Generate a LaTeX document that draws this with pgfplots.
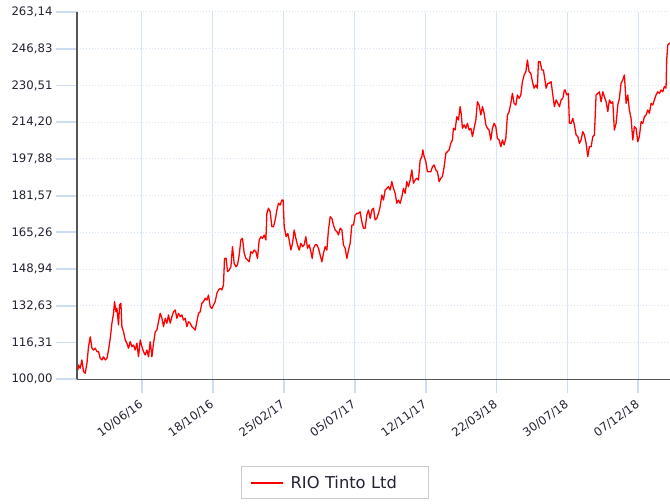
\documentclass[border=0pt]{standalone}
\usepackage{fontspec}
\setmainfont{DejaVu Sans}
\usepackage{pgfplots}
\usepackage{pgfplotstable}
\pgfplotsset{compat=1.18}
\definecolor{gridblue}{HTML}{D6E4F5}
\definecolor{tickblue}{HTML}{CCDDF2}
\definecolor{axisgray}{HTML}{555555}
\definecolor{labelcol}{HTML}{222233}
\definecolor{legendgray}{HTML}{CCCCCC}
\pgfplotstableread{
d v
-117.3 104.1
-116.2 106.4
-113.1 104.9
-110.0 108.6
-107.0 103.4
-103.9 102.7
-100.8 107.1
-97.9 114.5
-94.7 118.9
-91.6 113.8
-88.7 113.0
-85.6 113.8
-82.5 112.3
-79.5 112.3
-76.4 109.3
-73.3 108.6
-70.4 110.0
-67.2 108.6
-64.1 109.3
-61.2 113.0
-58.1 118.2
-55.0 124.9
-52.0 129.3
-50.2 134.5
-47.6 130.0
-45.8 131.5
-42.9 124.1
-41.0 133.0
-38.5 133.8
-36.7 123.4
-33.7 121.1
-30.6 117.5
-27.5 116.0
-24.6 113.8
-21.4 116.7
-18.3 114.5
-15.4 115.2
-12.3 113.0
-9.2 116.0
-6.2 110.0
-3.1 117.5
0.0 114.5
2.9 112.3
6.0 110.8
9.2 113.0
12.1 110.0
15.2 116.7
18.3 110.0
21.3 116.0
24.4 121.1
27.5 121.9
30.4 125.6
33.5 129.3
36.7 127.1
39.6 123.4
42.7 127.1
45.8 124.9
48.7 128.6
51.9 124.9
55.0 127.8
57.9 130.0
61.0 130.8
64.1 127.1
67.1 129.3
70.2 127.8
73.3 128.6
76.2 126.3
79.3 127.1
82.5 123.4
85.4 125.6
88.5 124.9
91.6 123.4
94.6 122.7
97.7 121.9
103.7 129.3
106.8 130.0
109.9 133.8
112.9 134.5
116.0 136.0
119.1 135.2
122.0 137.4
125.2 132.2
128.3 131.5
131.2 133.0
134.3 134.5
137.4 138.2
140.4 139.7
143.5 140.4
146.6 139.7
149.5 141.9
151.4 153.7
154.5 153.7
156.9 147.8
160.0 148.5
163.1 150.0
166.0 158.9
169.1 151.5
172.3 150.0
175.2 150.8
178.3 155.2
181.4 161.9
184.3 162.6
187.5 156.0
190.6 153.7
193.5 153.0
196.6 152.2
199.7 156.7
202.7 156.0
205.8 157.4
208.9 156.7
211.8 153.7
215.0 161.9
218.1 163.3
221.0 162.6
224.1 164.1
227.2 161.9
229.1 173.7
232.0 176.0
235.1 174.4
238.2 167.8
241.2 167.8
244.3 170.8
247.4 175.2
250.3 178.2
253.4 177.4
256.6 179.6
258.9 179.6
260.8 167.8
262.6 165.6
264.4 163.3
267.5 164.8
269.9 161.9
273.0 157.4
276.0 160.4
279.1 166.3
282.2 162.6
285.1 159.7
288.3 157.4
291.4 160.4
294.3 158.9
297.4 159.7
300.5 163.3
303.5 158.2
306.6 159.7
309.7 156.7
312.1 153.7
314.5 158.2
317.6 159.7
320.7 159.7
323.6 158.2
326.7 155.2
329.9 152.2
332.8 156.0
335.9 158.9
339.0 157.4
341.9 166.3
345.1 172.2
348.2 171.5
351.1 168.5
354.2 166.3
357.3 165.6
360.3 164.1
363.4 167.1
366.5 166.3
369.4 159.7
372.5 158.2
375.7 153.7
378.6 157.4
381.7 160.4
384.8 168.5
387.8 168.5
390.9 173.0
394.0 173.7
396.9 173.7
400.0 174.4
403.1 170.0
406.1 167.1
409.2 167.1
412.3 173.0
415.2 175.2
418.4 171.5
421.5 175.2
424.4 176.0
427.5 170.8
430.6 171.5
433.6 173.7
436.7 176.7
439.8 181.9
442.7 179.6
445.8 184.1
449.0 184.8
451.9 185.6
455.0 184.1
458.1 187.8
461.1 184.8
464.2 182.6
467.3 178.2
470.2 179.6
473.3 178.2
476.5 181.1
479.4 184.8
482.5 182.6
485.6 187.8
488.5 185.6
491.7 188.5
494.8 193.0
497.7 187.1
500.8 188.5
503.9 189.3
506.9 188.5
510.0 197.4
513.1 198.9
514.9 201.9
517.3 198.9
520.4 196.7
523.4 192.2
526.5 192.2
529.6 192.2
532.5 194.4
535.6 195.2
538.8 193.0
541.7 192.2
544.8 187.8
547.9 189.3
550.8 190.0
554.0 194.4
557.1 200.4
560.0 201.1
563.1 201.9
566.2 204.8
569.2 206.3
571.0 211.5
574.1 210.7
577.2 216.6
580.2 215.2
583.3 221.1
585.1 218.2
587.5 211.5
590.6 213.0
593.7 211.5
596.7 213.7
599.8 210.7
602.9 211.5
605.8 207.8
608.9 211.5
612.1 215.2
615.0 223.3
618.1 221.8
621.2 217.4
624.2 221.1
627.3 218.2
630.4 213.0
633.3 211.5
636.4 210.7
639.5 206.3
642.5 211.5
645.6 213.7
648.7 212.2
651.6 207.0
654.7 206.3
657.9 203.3
660.8 206.3
663.9 204.1
667.0 207.0
670.0 217.4
673.1 218.9
676.2 222.6
679.1 227.0
682.2 222.6
685.4 221.8
688.3 226.3
691.4 224.8
694.5 226.3
697.5 232.2
700.6 235.2
703.7 236.6
706.6 241.8
709.7 236.6
712.8 235.9
715.8 232.2
718.9 229.3
722.0 230.7
724.9 229.3
726.8 241.1
729.9 241.1
733.0 237.4
735.9 237.4
737.8 234.4
740.9 229.3
744.0 231.5
746.9 231.5
750.0 232.2
753.2 226.3
756.1 221.1
759.2 224.1
762.3 222.6
765.3 221.1
768.4 224.1
771.5 224.8
774.4 228.5
775.7 228.5
778.8 226.3
781.7 227.0
783.6 213.7
786.7 213.7
789.8 215.9
792.7 213.0
795.9 208.5
799.0 207.8
801.9 204.8
805.0 206.3
808.1 210.0
811.1 208.5
814.2 204.8
817.3 198.9
820.2 203.3
823.4 203.3
826.5 207.8
829.4 208.5
832.5 226.3
835.6 227.0
838.6 227.7
841.7 223.3
844.8 227.7
847.7 225.5
850.9 223.3
854.0 218.9
856.9 224.1
860.0 222.6
863.1 223.3
866.0 210.7
869.2 213.7
872.3 221.8
875.2 224.8
878.3 231.5
881.4 232.9
884.4 235.2
887.5 222.6
890.6 226.3
893.5 219.6
896.6 215.9
899.8 206.3
902.7 212.2
905.8 211.5
908.9 205.5
911.8 207.8
915.0 214.4
918.1 213.7
921.0 216.6
924.1 217.4
927.2 219.6
930.2 218.2
933.3 222.6
936.4 221.8
939.3 224.1
942.4 226.3
945.5 227.7
948.5 227.0
951.6 228.5
954.7 227.7
957.6 230.0
960.7 229.3
961.9 241.8
963.8 248.5
966.7 249.2
968.0 249.2
}\riodata
\begin{document}
\begin{tikzpicture}
\path[use as bounding box] (-77bp,-124bp) rectangle (593bp,379.3bp);
\foreach \i in {0,...,7}
  {\draw[tickblue, line width=1.8bp] ({64.92bp+\i*70.92bp},0bp) -- ++(0bp,-14bp);}
\foreach \i in {0,...,10}
  {\draw[tickblue, line width=1.8bp] (0bp,{\i*36.73bp}) -- ++(-21bp,0bp);}
\begin{axis}[
  at={(0,0)}, anchor=south west,
  scale only axis, width=593bp, height=367.3bp,
  xmin=-119, xmax=968, ymin=100, ymax=263.14,
  axis x line*=bottom, axis y line*=left,
  axis line style={-, draw=axisgray, line width=1.4bp},
  xtick align=outside, ytick align=outside,
  xtick pos=bottom, ytick pos=left,
  major tick length=21bp,
  xtick={0,130,260,390,520,650,780,910},
  xticklabels={10/06/16,18/10/16,25/02/17,05/07/17,12/11/17,22/03/18,30/07/18,07/12/18},
  ytick={100,116.314,132.628,148.942,165.256,181.57,197.884,214.198,230.512,246.826,263.14},
  yticklabels={{100,00},{116,31},{132,63},{148,94},{165,26},{181,57},{197,88},{214,20},{230,51},{246,83},{263,14}},
  every tick/.style={draw=none},
  xmajorgrids, ymajorgrids,
  x grid style={draw=gridblue, line width=1bp},
  y grid style={draw=gridblue, line width=1bp, dotted},
  ticklabel style={font=\fontsize{11.7bp}{13bp}\selectfont, text=labelcol},
  xticklabel style={rotate=36, anchor=north east, inner sep=2bp, yshift=5bp},
  legend style={at={(0.4351,-0.2369)}, anchor=north, draw=legendgray,
    line width=0.8bp, fill=white, inner xsep=8bp, inner ysep=6bp,
    font=\fontsize{16.3bp}{19bp}\selectfont, text=labelcol,
    nodes={inner xsep=7bp, inner ysep=3bp, text width=123bp, align=left}},
  legend image code/.code={\draw[red, line width=2.2bp] (6bp,0bp) -- (38bp,0bp);},
]
\addplot[color=red, line width=1.3bp, line join=round] table[x=d, y=v] {\riodata};
\addlegendentry{RIO Tinto Ltd}
\end{axis}
\end{tikzpicture}
\end{document}
